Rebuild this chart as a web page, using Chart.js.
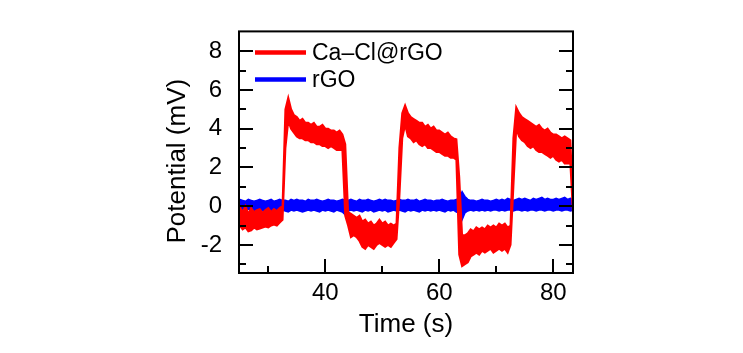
<!DOCTYPE html>
<html>
<head>
<meta charset="utf-8">
<script src="https://cdn.jsdelivr.net/npm/chart.js@4"></script>
<style>
  html, body { margin: 0; padding: 0; background: #fff; }
  #chart { display: block; }
</style>
</head>
<body>
<canvas id="chart" width="743" height="353"></canvas>
<script>
// sample times (s), every 0.5 s
const time = [
  25, 25.5, 26, 26.5, 27, 27.5, 28, 28.5, 29, 29.5,
  30, 30.5, 31, 31.5, 32, 32.5, 33, 33.5, 34, 34.5,
  35, 35.5, 36, 36.5, 37, 37.5, 38, 38.5, 39, 39.5,
  40, 40.5, 41, 41.5, 42, 42.5, 43, 43.5, 44, 44.5,
  45, 45.5, 46, 46.5, 47, 47.5, 48, 48.5, 49, 49.5,
  50, 50.5, 51, 51.5, 52, 52.5, 53, 53.5, 54, 54.5,
  55, 55.5, 56, 56.5, 57, 57.5, 58, 58.5, 59, 59.5,
  60, 60.5, 61, 61.5, 62, 62.5, 63, 63.5, 64, 64.5,
  65, 65.5, 66, 66.5, 67, 67.5, 68, 68.5, 69, 69.5,
  70, 70.5, 71, 71.5, 72, 72.5, 73, 73.5, 74, 74.5,
  75, 75.5, 76, 76.5, 77, 77.5, 78, 78.5, 79, 79.5,
  80, 80.5, 81, 81.5, 82, 82.5, 83, 83.5
];

// Ca–Cl@rGO potential (mV): top and bottom edge of the noisy trace
const caclHigh = [
  -0.05, -0.3, 0.0, -0.4, -0.1, -0.3, -0.2, -0.15, -0.35, -0.2,
  -0.1, -0.3, -0.15, -0.25, -0.1, 0.0, 5.0, 5.6, 5.0, 4.7,
  4.6, 4.4, 4.5, 4.3, 4.3, 4.2, 4.3, 4.1, 4.1, 4.2,
  4.0, 4.0, 3.9, 3.9, 3.8, 3.9, 3.7, 3.2, -0.3, -0.4,
  -0.5, -0.6, -0.5, -0.8, -0.7, -0.9, -0.8, -1.0, -0.9, -0.7,
  -0.9, -0.8, -1.0, -0.9, -1.0, -0.9, 3.0, 4.8, 5.2, 4.8,
  4.6, 4.5, 4.4, 4.3, 4.3, 4.1, 4.2, 4.0, 4.1, 3.9,
  3.9, 3.8, 3.7, 3.8, 3.6, 3.5, 3.45, 1.5, -1.5, -1.5,
  -1.4, -1.2, -1.3, -1.1, -1.2, -1.1, -1.2, -1.0, -1.1, -1.0,
  -1.1, -0.9, -1.0, -0.9, -1.1, -1.0, 3.5, 5.1, 4.8, 4.6,
  4.5, 4.4, 4.3, 4.2, 4.1, 4.2, 4.0, 3.9, 4.0, 3.8,
  3.7, 3.7, 3.6, 3.5, 3.6, 3.5, 3.4, -0.3
];
const caclLow = [
  -1.0, -1.2, -1.1, -1.3, -1.25, -1.1, -1.2, -1.15, -1.1, -1.05,
  -1.1, -1.0, -0.95, -1.0, -0.85, -0.7, 3.0, 4.4, 4.0, 3.8,
  3.6, 3.5, 3.5, 3.4, 3.4, 3.3, 3.3, 3.2, 3.2, 3.1,
  3.1, 3.0, 3.1, 3.0, 2.9, 2.9, 2.9, -0.5, -1.0, -1.6,
  -1.5, -1.6, -1.8, -2.1, -2.2, -2.0, -2.1, -2.2, -2.0, -1.9,
  -2.0, -2.1, -2.0, -2.1, -1.9, -1.7, 0.5, 3.5, 4.2, 3.6,
  3.5, 3.3, 3.4, 3.2, 3.1, 3.2, 3.0, 3.0, 2.9, 2.8,
  2.8, 2.7, 2.6, 2.6, 2.5, 2.5, 2.4, -2.5, -3.1, -3.0,
  -2.9, -2.6, -2.5, -2.4, -2.5, -2.3, -2.4, -2.3, -2.2, -2.4,
  -2.3, -2.2, -2.3, -2.2, -2.4, -2.0, 1.0, 4.0, 3.6, 3.4,
  3.3, 3.1, 3.0, 3.1, 2.9, 2.8, 2.8, 2.7, 2.6, 2.5,
  2.6, 2.4, 2.3, 2.4, 2.2, 2.2, 2.2, -0.6
];

// rGO potential (mV): top and bottom edge of the noisy trace
const rgoHigh = [
  0.35, 0.3, 0.25, 0.35, 0.3, 0.25, 0.3, 0.35, 0.3, 0.25,
  0.3, 0.35, 0.25, 0.3, 0.35, 0.3, 0.3, 0.25, 0.35, 0.3,
  0.35, 0.3, 0.3, 0.25, 0.35, 0.3, 0.3, 0.35, 0.3, 0.25,
  0.3, 0.35, 0.3, 0.3, 0.25, 0.3, 0.35, 0.3, 0.3, 0.35,
  0.3, 0.25, 0.35, 0.3, 0.3, 0.35, 0.3, 0.25, 0.3, 0.35,
  0.3, 0.35, 0.3, 0.3, 0.25, 0.3, 0.35, 0.3, 0.3, 0.35,
  0.3, 0.3, 0.35, 0.25, 0.3, 0.35, 0.3, 0.3, 0.25, 0.3,
  0.3, 0.35, 0.3, 0.25, 0.3, 0.3, 0.35, 0.4, 0.75, 0.5,
  0.35, 0.3, 0.3, 0.25, 0.3, 0.35, 0.3, 0.3, 0.25, 0.3,
  0.35, 0.3, 0.35, 0.3, 0.4, 0.35, 0.3, 0.35, 0.4, 0.35,
  0.4, 0.35, 0.3, 0.4, 0.35, 0.4, 0.45, 0.35, 0.4, 0.35,
  0.35, 0.4, 0.35, 0.4, 0.45, 0.35, 0.4, 0.35
];
const rgoLow = [
  -0.2, -0.25, -0.2, -0.15, -0.25, -0.2, -0.3, -0.2, -0.25, -0.2,
  -0.25, -0.2, -0.3, -0.2, -0.25, -0.2, -0.25, -0.3, -0.2, -0.25,
  -0.2, -0.25, -0.3, -0.25, -0.2, -0.25, -0.2, -0.25, -0.3, -0.2,
  -0.25, -0.2, -0.25, -0.3, -0.2, -0.25, -0.3, -0.45, -0.25, -0.2,
  -0.25, -0.2, -0.25, -0.3, -0.2, -0.25, -0.2, -0.3, -0.25, -0.2,
  -0.25, -0.2, -0.3, -0.25, -0.2, -0.25, -0.2, -0.25, -0.3, -0.2,
  -0.25, -0.2, -0.25, -0.3, -0.2, -0.25, -0.2, -0.25, -0.2, -0.25,
  -0.2, -0.25, -0.3, -0.2, -0.25, -0.2, -0.3, -0.35, -0.7, -0.35,
  -0.25, -0.2, -0.25, -0.2, -0.25, -0.2, -0.25, -0.2, -0.25, -0.2,
  -0.2, -0.25, -0.2, -0.25, -0.2, -0.2, -0.25, -0.2, -0.2, -0.25,
  -0.2, -0.25, -0.2, -0.2, -0.25, -0.2, -0.2, -0.25, -0.2, -0.2,
  -0.25, -0.2, -0.2, -0.25, -0.2, -0.2, -0.25, -0.2
];

const seriesNames = ['Ca\u2013Cl@rGO', 'rGO'];
const seriesColors = ['#ff0000', '#0000ff'];

const xMajor = [40, 60, 80];
const xMinor = [30, 50, 70];
const yMajor = [-2, 0, 2, 4, 6, 8];
const yMinor = [-3, -1, 1, 3, 5, 7];

const FONT = "'Liberation Sans', Arial, sans-serif";

// frame, inward ticks (both sides), inset legend and y title
const framePlugin = {
    id: 'frame',
    afterDatasetsDraw(chart) {
        const { ctx, chartArea: a, scales: { x, y } } = chart;
        ctx.save();
        ctx.strokeStyle = '#000';
        ctx.lineWidth = 2;
        ctx.beginPath();
        const yTick = (v, len) => {
            const py = Math.round(y.getPixelForValue(v));
            ctx.moveTo(a.left, py); ctx.lineTo(a.left + len, py);
            ctx.moveTo(a.right, py); ctx.lineTo(a.right - len, py);
        };
        const xTick = (v, len) => {
            const px = Math.round(x.getPixelForValue(v));
            ctx.moveTo(px, a.bottom); ctx.lineTo(px, a.bottom - len);
        };
        yMajor.forEach(v => yTick(v, 14));
        yMinor.forEach(v => yTick(v, 7));
        xMajor.forEach(v => xTick(v, 14));
        xMinor.forEach(v => xTick(v, 7));
        ctx.stroke();
        ctx.strokeRect(a.left, a.top, a.right - a.left, a.bottom - a.top);

        // legend
        ctx.font = '23px ' + FONT;
        ctx.textBaseline = 'middle';
        ctx.textAlign = 'left';
        seriesNames.forEach((name, i) => {
            const ly = a.top + 21 + i * 27;
            ctx.strokeStyle = seriesColors[i];
            ctx.lineWidth = 4.5;
            ctx.beginPath();
            ctx.moveTo(a.left + 16, ly);
            ctx.lineTo(a.left + 67, ly);
            ctx.stroke();
            ctx.fillStyle = '#000';
            ctx.fillText(name, a.left + 73, ly + 1);
        });

        // y axis title, sits a little below the plot centre in the original
        ctx.font = '26px ' + FONT;
        ctx.textAlign = 'center';
        ctx.translate(a.left - 61, (a.top + a.bottom) / 2 + 9);
        ctx.rotate(-Math.PI / 2);
        ctx.fillText('Potential (mV)', 0, 0);
        ctx.restore();
    }
};

const toPoints = values => values.map((v, i) => ({ x: time[i], y: v }));

// each trace is its noise band: top edge, then bottom edge filled up to it
const band = (high, low, color, width) => [
    {
        data: toPoints(high),
        borderColor: color,
        borderWidth: width,
        pointRadius: 0,
        fill: false,
    },
    {
        data: toPoints(low),
        borderColor: color,
        borderWidth: width,
        backgroundColor: color,
        pointRadius: 0,
        fill: '-1',
    },
];

new Chart(document.getElementById('chart'), {
    type: 'line',
    data: {
        datasets: [
            ...band(caclHigh, caclLow, seriesColors[0], 2),
            ...band(rgoHigh, rgoLow, seriesColors[1], 1.5),
        ],
    },
    options: {
        responsive: false,
        animation: false,
        devicePixelRatio: 1,
        layout: { padding: { left: 150, right: 170, top: 11, bottom: 0 } },
        plugins: {
            legend: { display: false },
            tooltip: { enabled: false },
        },
        scales: {
            x: {
                type: 'linear',
                min: 24.86,
                max: 83.46,
                afterBuildTicks: s => { s.ticks = xMajor.map(v => ({ value: v })); },
                afterFit: s => { s.height = 80; },
                grid: { display: false, drawTicks: false },
                border: { display: false },
                ticks: { color: '#000', padding: 6, font: { family: FONT, size: 24 } },
                title: {
                    display: true,
                    text: 'Time (s)',
                    color: '#000',
                    font: { family: FONT, size: 26 },
                    padding: { top: 0, bottom: 13 },
                },
            },
            y: {
                min: -3.45,
                max: 9.02,
                afterBuildTicks: s => { s.ticks = yMajor.map(v => ({ value: v })); },
                afterFit: s => { s.width = 89; },
                grid: { display: false, drawTicks: false },
                border: { display: false },
                ticks: { color: '#000', padding: 17, font: { family: FONT, size: 24 } },
            },
        },
    },
    plugins: [framePlugin],
});
</script>
</body>
</html>
